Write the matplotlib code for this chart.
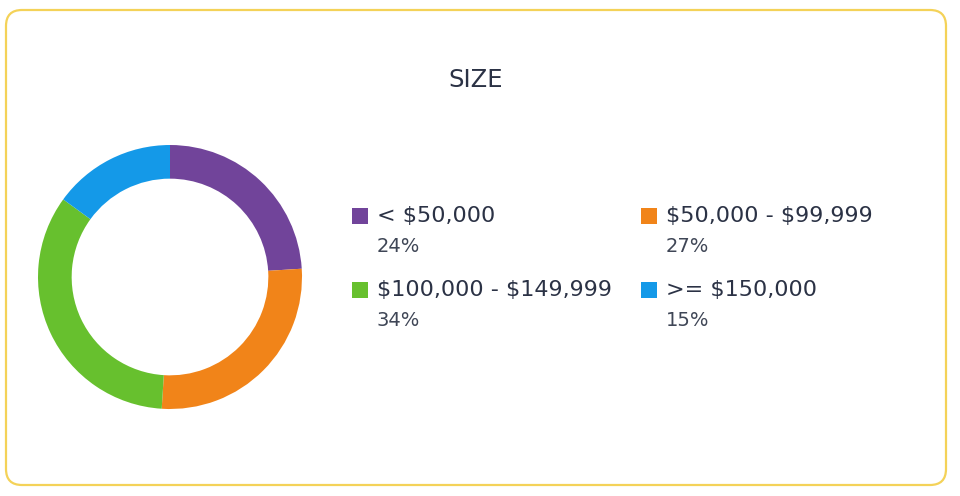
import matplotlib
matplotlib.use("Agg")
import matplotlib.pyplot as plt
from matplotlib.patches import FancyBboxPatch, Rectangle

# data
categories = ["< $50,000", "$50,000 - $99,999", "$100,000 - $149,999", ">= $150,000"]
shares = [24, 27, 34, 15]
colors = ["#71449A", "#F18419", "#67C02E", "#1499E8"]
title = "SIZE"

plt.rcParams["font.family"] = ["DejaVu Sans"]
plt.rcParams["text.parse_math"] = False
text_color = "#2B3245"

W, H = 960, 496
fig = plt.figure(figsize=(W / 100, H / 100), dpi=100)

# background axes in pixel coords for the card border
bg = fig.add_axes([0, 0, 1, 1])
bg.set_xlim(0, W)
bg.set_ylim(H, 0)
bg.axis("off")
card = FancyBboxPatch((6, 10), 940, 475, boxstyle="round,pad=0,rounding_size=16",
                      fc="white", ec="#F4D258", lw=1.6)
bg.add_patch(card)
bg.text(476, 80, title, ha="center", va="center", fontsize=17.5, color=text_color)

# donut
cx, cy, r = 170, 277, 132
ax = fig.add_axes([(cx - r) / W, (H - cy - r) / H, 2 * r / W, 2 * r / H])
ax.pie(shares, colors=colors, startangle=90, counterclock=False,
       wedgeprops=dict(width=0.255, edgecolor="none"), radius=1)
ax.set_xlim(-1, 1)
ax.set_ylim(-1, 1)
ax.set_aspect("equal")
ax.axis("off")

# legend: 2 columns x 2 rows
col_x = [352, 641]
row_y = [216, 290]
for i, (cat, val, col) in enumerate(zip(categories, shares, colors)):
    x = col_x[i % 2]
    y = row_y[i // 2]
    bg.add_patch(Rectangle((x, y - 8), 16, 16, fc=col, ec="none"))
    bg.text(x + 25, y, cat, ha="left", va="center", fontsize=16, color=text_color)
    bg.text(x + 25, y + 31, f"{val}%", ha="left", va="center", fontsize=14,
            color="#3F4656")

fig.savefig("out.png", dpi=100)
